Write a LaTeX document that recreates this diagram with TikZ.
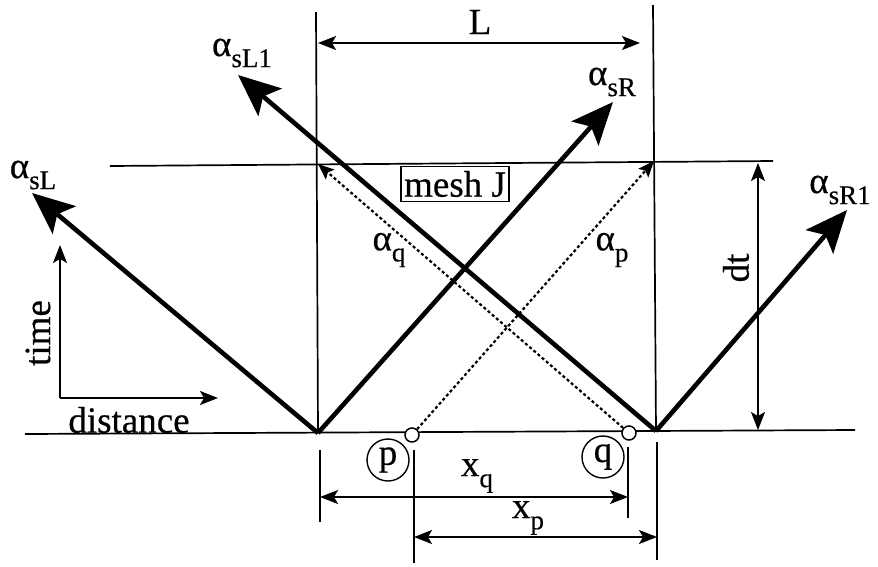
\documentclass[tikz,border=0pt]{standalone}
\usepackage{fontspec}
\setmainfont{Liberation Serif}[FakeBold=0.5]
\usetikzlibrary{arrows.meta}
\newcommand\lblfont{\fontsize{37}{42}\selectfont}
\newcommand\alab[1]{α\raisebox{-0.3em}{\fontsize{27}{30}\selectfont #1}}
\begin{document}
\begin{tikzpicture}[x=1pt,y=-1pt,
  thinline/.style={line width=1.7pt},
  thickarrow/.style={line width=4.6pt,-{Stealth[length=42pt,width=36pt,inset=9pt]}},
  dimarrow/.style={line width=1.8pt,{Stealth[length=18pt,width=14pt,inset=4pt]}-{Stealth[length=18pt,width=14pt,inset=4pt]}},
  onearrow/.style={line width=1.8pt,-{Stealth[length=18pt,width=14pt,inset=4pt]}},
  dotarrow/.style={line width=2.2pt,dash pattern=on 3pt off 2.5pt,-{Stealth[length=16pt,width=13pt,inset=3pt]}},
  lbl/.style={inner sep=0pt,font=\lblfont},
  smallcirc/.style={circle,draw,line width=1.5pt,fill=white,minimum size=14pt,inner sep=0pt},
  bigcirc/.style={circle,draw,line width=1.4pt,minimum size=42pt,inner sep=0pt,font=\lblfont}]
\useasboundingbox (0,0) rectangle (878,566);
% key points
\coordinate (VL) at (318,433);
\coordinate (VR) at (656,431);
\coordinate (BLa) at (25,434);
\coordinate (BLb) at (855,430);
\coordinate (TLa) at (110,166);
\coordinate (TLb) at (773,161);
\coordinate (LVt) at (316,12);
\coordinate (RVt) at (653,5);
\coordinate (TLc) at (318,164);
\coordinate (TRc) at (654,161);
% base lines
\draw[thinline] (BLa) -- (BLb);
\draw[thinline] (TLa) -- (TLb);
\draw[thinline] (LVt) -- (VL);
\draw[thinline] (RVt) -- (VR);
% extension lines
\coordinate (E1a) at (320,450); \coordinate (E1b) at (320,522);
\coordinate (E2a) at (657,442); \coordinate (E2b) at (657,560);
\coordinate (E3a) at (628,447); \coordinate (E3b) at (628,518);
\coordinate (E4a) at (414,450); \coordinate (E4b) at (414,563);
\draw[thinline] (E1a) -- (E1b);
\draw[thinline] (E2a) -- (E2b);
\draw[thinline] (E3a) -- (E3b);
\draw[thinline] (E4a) -- (E4b);
% L dimension
\coordinate (La) at (318,43); \coordinate (Lb) at (640,43);
\draw[dimarrow] (La) -- (Lb);
\node[lbl] (Ltxt) at (480,22) {L};
% thick arrows
\coordinate (tSL) at (32,193);
\coordinate (tSR) at (613,102);
\coordinate (tSL1) at (238,75);
\coordinate (tSR1) at (847,210);
\draw[thickarrow] (VL) -- (tSL);
\draw[thickarrow] (VL) -- (tSR);
\draw[thickarrow] (VR) -- (tSL1);
\draw[thickarrow] (VR) -- (tSR1);
\node[lbl] (aSL) at (33,175) {\alab{sL}};
\node[lbl] (aSR) at (612,82) {\alab{sR}};
\node[lbl] (aSL1) at (242,53) {\alab{sL1}};
\node[lbl] (aSR1) at (840,190) {\alab{sR1}};
% dotted characteristics
\node[smallcirc] (pp) at (412,435) {};
\node[smallcirc] (qq) at (629,433) {};
\draw[dotarrow] (pp) -- (TRc);
\draw[dotarrow] (qq) -- (TLc);
\node[lbl] (aq) at (389,250) {\alab{q}};
\node[lbl] (ap) at (612,250) {\alab{p}};
% mesh J
\node[draw,line width=1.4pt,inner xsep=3pt,inner ysep=1pt,minimum height=35pt,font=\lblfont] (mesh) at (455,184) {mesh J};
% dt
\coordinate (dta) at (758,163); \coordinate (dtb) at (758,430);
\draw[dimarrow] (dta) -- (dtb);
\node[lbl,rotate=90] (dt) at (736,268) {dt};
% axes
\coordinate (ax0) at (60,398); \coordinate (axT) at (60,245); \coordinate (axD) at (218,398);
\draw[onearrow] (ax0) -- (axT);
\draw[onearrow] (ax0) -- (axD);
\node[lbl,rotate=90] (time) at (38,333) {time};
\node[lbl] (dist) at (129,420) {distance};
% circled p q
\node[bigcirc] (cp) at (388,460) {p};
\node[bigcirc] (cq) at (603,457) {q};
% x_q, x_p
\coordinate (xqa) at (320,497); \coordinate (xqb) at (628,497);
\draw[dimarrow] (xqa) -- (xqb);
\node[lbl] (xq) at (477,476) {x\raisebox{-0.3em}{\fontsize{27}{30}\selectfont q}};
\coordinate (xpa) at (414,537); \coordinate (xpb) at (657,537);
\draw[dimarrow] (xpa) -- (xpb);
\node[lbl] (xp) at (528,518) {x\raisebox{-0.3em}{\fontsize{27}{30}\selectfont p}};
\end{tikzpicture}
\end{document}
